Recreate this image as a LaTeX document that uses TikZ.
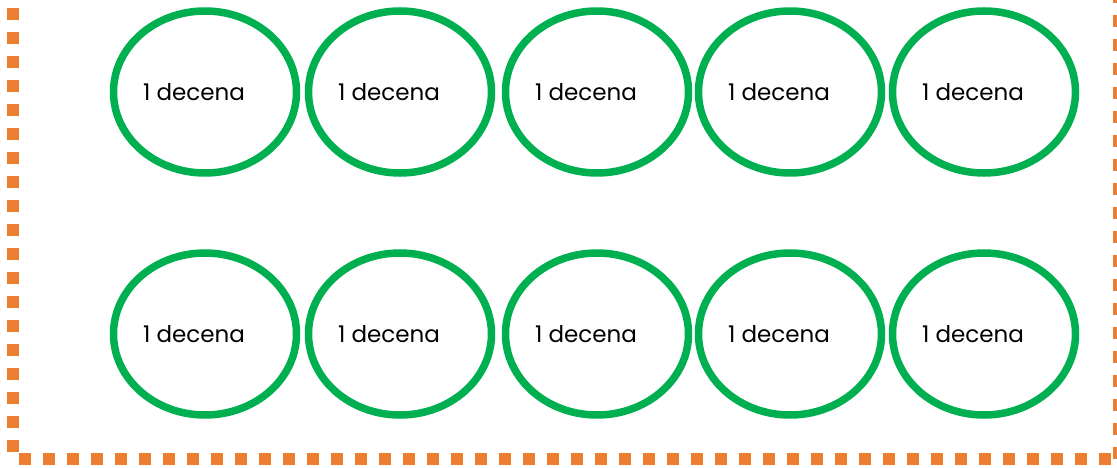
\documentclass[tikz,border=0pt]{standalone}
\usepackage{fontspec}
\setmainfont{Poppins}
\usetikzlibrary{shapes.geometric}
\definecolor{grn}{HTML}{00B050}
\definecolor{org}{HTML}{ED7D31}
\tikzset{
  ring/.style={draw=grn, line width=7.5pt, ellipse, minimum width=183pt, minimum height=162pt, inner sep=0pt,
    label={[font=\fontsize{23pt}{27pt}\selectfont, xshift=-11pt, yshift=0pt]center:1 decena}},
  frame/.style={draw=org, line width=12pt, dash pattern=on 12pt off 12pt}
}
\begin{document}
\begin{tikzpicture}[x=1pt,y=-1pt]
\useasboundingbox (0,0) rectangle (1117,468);
\coordinate (tl) at (13,8);
\coordinate (bl) at (13,459);
\coordinate (br) at (1119,459);
\coordinate (tr) at (1119,-4);
\draw[frame] (tl) -- (bl);
\draw[frame] (19,459) -- (br);
\draw[frame] (br) -- (tr);
\foreach \c/\x in {1/205,2/400,3/597,4/790,5/984}{
  \node[ring] (a\c) at (\x,92) {};
  \node[ring] (b\c) at (\x,334) {};
}
\end{tikzpicture}
\end{document}
